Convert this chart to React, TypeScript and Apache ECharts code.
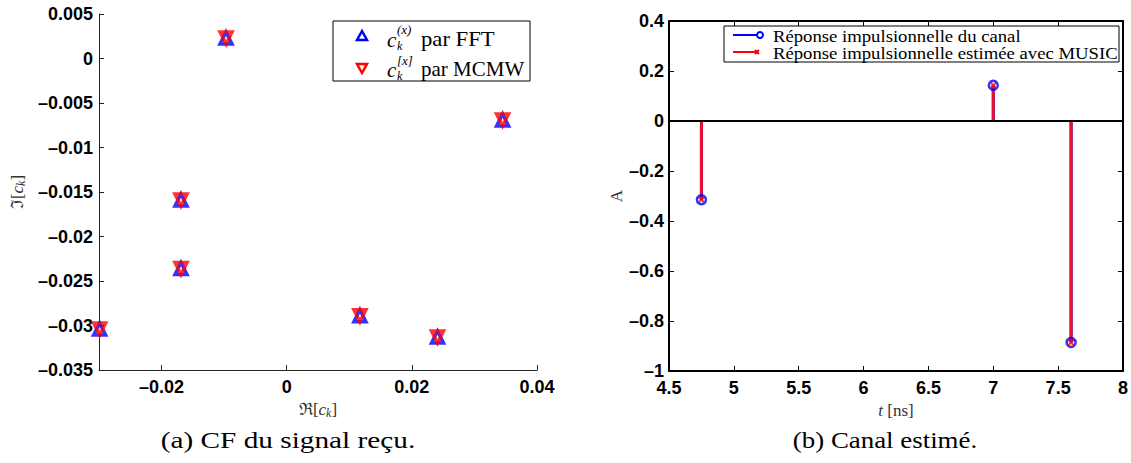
import React, { useEffect, useRef } from "react";
import * as echarts from "echarts";

// Left chart: Fourier coefficients (complex plane)
const fftRe = [-0.0299, -0.0169, -0.0169, -0.0097, 0.0345, 0.0117, 0.0241];
const fftIm = [-0.0304, -0.0236, -0.0159, 0.0023, -0.0069, -0.0289, -0.0313];
const mcmwRe = [-0.0299, -0.0169, -0.0169, -0.0097, 0.0345, 0.0117, 0.0241];
const mcmwIm = [-0.0304, -0.0236, -0.0159, 0.0023, -0.0069, -0.0289, -0.0313];
const leftXTicks = [-0.02, 0, 0.02, 0.04];

// Right chart: channel impulse response
const tCanal = [4.75, 7.0, 7.6];
const aCanal = [-0.315, 0.143, -0.886];
const tMusic = [4.75, 7.0, 7.6];
const aMusic = [-0.315, 0.143, -0.886];

const SERIF = "Liberation Serif";
const SANS = "Liberation Sans";

const fmt = (v: number) => {
  const n = parseFloat(v.toFixed(4));
  if (n === 0) return "0";
  const s = String(Math.abs(n));
  return n < 0 ? "\u2013" + s : s;
};

const tickLabel = { color: "#000", fontFamily: SANS, fontWeight: "bold" as const, fontSize: 18 };

export default function App() {
  const ref = useRef<HTMLDivElement>(null);
  useEffect(() => {
    if (!ref.current) return;
    const chart = echarts.init(ref.current, undefined, { renderer: "svg" });
    const xMarker = "path://M0,0L10,10M10,0L0,10";
    const txt = (
      x: number,
      y: number,
      text: string,
      size: number,
      italic = false,
      align = "left",
      sx = 1,
      valign = "middle",
      color = "#000"
    ) => ({
      type: "text",
      x,
      y,
      scaleX: sx,
      z: 11,
      style: {
        text,
        fontFamily: SERIF,
        fontSize: size,
        fontStyle: italic ? "italic" : "normal",
        fill: color,
        textAlign: align,
        textVerticalAlign: valign,
        align,
        verticalAlign: valign,
      },
    });
    const nameRich = {
      i: { fontFamily: SERIF, fontStyle: "italic", fontSize: 17, color: "#333" },
      s: { fontFamily: SERIF, fontStyle: "italic", fontSize: 12, color: "#333", padding: [8, 0, 0, 0] },
    };
    const option: any = {
      animation: false,
      backgroundColor: "#fff",
      grid: [
        { left: 99, top: 14, width: 438, height: 356 },
        { left: 669, top: 21, width: 454, height: 350 },
      ],
      xAxis: [
        {
          type: "value",
          gridIndex: 0,
          min: -0.03,
          max: 0.04,
          splitLine: { show: false },
          axisLine: { onZero: false, lineStyle: { color: "#222", width: 1 } },
          axisTick: { inside: true, length: 5, customValues: leftXTicks, lineStyle: { color: "#222" } },
          axisLabel: { ...tickLabel, margin: 8, customValues: leftXTicks, formatter: fmt },
          name: "\u211C[{i|c}{s|k}]",
          nameLocation: "middle",
          nameGap: 28,
          nameTextStyle: { fontFamily: SERIF, fontSize: 17, color: "#333", rich: nameRich },
        },
        {
          type: "value",
          gridIndex: 1,
          min: 4.5,
          max: 8,
          interval: 0.5,
          splitLine: { show: false },
          axisLine: { onZero: false, lineStyle: { color: "#000", width: 2 } },
          axisTick: { inside: true, length: 5, lineStyle: { color: "#000" } },
          axisLabel: { ...tickLabel, margin: 8, formatter: fmt },
          name: "{i|t} [ns]",
          nameLocation: "middle",
          nameGap: 27,
          nameTextStyle: { fontFamily: SERIF, fontSize: 17, color: "#333", rich: { i: { fontFamily: SERIF, fontStyle: "italic", fontSize: 17, color: "#333" } } },
        },
        {
          type: "value",
          gridIndex: 1,
          position: "top",
          min: 4.5,
          max: 8,
          interval: 0.5,
          splitLine: { show: false },
          axisLine: { onZero: false, lineStyle: { color: "#000", width: 2 } },
          axisTick: { inside: true, length: 5, lineStyle: { color: "#000" } },
          axisLabel: { show: false },
        },
      ],
      yAxis: [
        {
          type: "value",
          gridIndex: 0,
          min: -0.035,
          max: 0.005,
          interval: 0.005,
          splitLine: { show: false },
          axisLine: { onZero: false, lineStyle: { color: "#222", width: 1 } },
          axisTick: { inside: true, length: 5, lineStyle: { color: "#222" } },
          axisLabel: { ...tickLabel, margin: 6, formatter: fmt },
          name: "\u2111[{i|c}{s|k}]",
          nameLocation: "middle",
          nameGap: 72,
          nameTextStyle: { fontFamily: SERIF, fontSize: 17, color: "#333", rich: nameRich },
        },
        {
          type: "value",
          gridIndex: 1,
          min: -1,
          max: 0.4,
          interval: 0.2,
          splitLine: { show: false },
          axisLine: { onZero: false, lineStyle: { color: "#000", width: 2 } },
          axisTick: { inside: true, length: 5, lineStyle: { color: "#000" } },
          axisLabel: { ...tickLabel, margin: 5, formatter: fmt },
          name: "A",
          nameLocation: "middle",
          nameGap: 41,
          nameTextStyle: { fontFamily: SERIF, fontSize: 17, color: "#333" },
        },
        {
          type: "value",
          gridIndex: 1,
          position: "right",
          min: -1,
          max: 0.4,
          interval: 0.2,
          splitLine: { show: false },
          axisLine: { onZero: false, lineStyle: { color: "#000", width: 2 } },
          axisTick: { inside: true, length: 5, lineStyle: { color: "#000" } },
          axisLabel: { show: false },
        },
      ],
      series: [
        {
          name: "FFT",
          type: "scatter",
          xAxisIndex: 0,
          yAxisIndex: 0,
          symbol: "triangle",
          symbolSize: 12,
          itemStyle: { color: "#fff", borderColor: "#0000ff", borderWidth: 3.5 },
          data: fftRe.map((x, i) => [x, fftIm[i]]),
          z: 3,
        },
        {
          name: "MCMW",
          type: "scatter",
          xAxisIndex: 0,
          yAxisIndex: 0,
          symbol: "triangle",
          symbolRotate: 180,
          symbolSize: 12,
          itemStyle: { color: "rgba(255,255,255,0)", borderColor: "#ff0000", borderWidth: 3.5 },
          data: mcmwRe.map((x, i) => [x, mcmwIm[i]]),
          z: 4,
        },
        {
          name: "canal",
          type: "bar",
          xAxisIndex: 1,
          yAxisIndex: 1,
          barWidth: 3,
          barGap: "-100%",
          itemStyle: { color: "#0000ff" },
          data: tCanal.map((t, i) => [t, aCanal[i]]),
          z: 2,
        },
        {
          name: "MUSIC",
          type: "bar",
          xAxisIndex: 1,
          yAxisIndex: 1,
          barWidth: 3,
          barGap: "-100%",
          itemStyle: { color: "#e8102e" },
          data: tMusic.map((t, i) => [t, aMusic[i]]),
          z: 3,
          markLine: {
            silent: true,
            symbol: "none",
            label: { show: false },
            lineStyle: { color: "#000", width: 2, type: "solid" },
            data: [{ yAxis: 0 }],
          },
        },
        {
          name: "canal-marker",
          type: "scatter",
          xAxisIndex: 1,
          yAxisIndex: 1,
          symbol: "circle",
          symbolSize: 9,
          itemStyle: { color: "rgba(255,255,255,0)", borderColor: "#0000ff", borderWidth: 2.5 },
          data: tCanal.map((t, i) => [t, aCanal[i]]),
          z: 5,
        },
        {
          name: "MUSIC-marker",
          type: "scatter",
          xAxisIndex: 1,
          yAxisIndex: 1,
          symbol: xMarker,
          symbolSize: 5,
          itemStyle: { color: "#ff0000", borderColor: "#ff0000", borderWidth: 2 },
          data: tMusic.map((t, i) => [t, aMusic[i]]),
          z: 6,
        },
      ],
      graphic: [
        // left legend
        {
          type: "rect",
          shape: { x: 333, y: 21, width: 197, height: 60 },
          style: { fill: "#fff", stroke: "#000", lineWidth: 1 },
          z: 10,
        },
        {
          type: "polygon",
          shape: { points: [[362, 31], [357, 40], [367, 40]] },
          style: { fill: "#fff", stroke: "#0000ff", lineWidth: 2.5 },
          z: 11,
        },
        {
          type: "polygon",
          shape: { points: [[362, 73], [357, 64], [367, 64]] },
          style: { fill: "#fff", stroke: "#ff0000", lineWidth: 2.5 },
          z: 11,
        },
        txt(387, 40, "c", 21, true),
        txt(397, 46, "k", 12, true),
        txt(397, 29, "(x)", 13, true),
        txt(421, 39, "par FFT", 21, false, "left", 1.08),
        txt(387, 70, "c", 21, true),
        txt(397, 76, "k", 12, true),
        txt(397, 60, "[x]", 13, true),
        txt(421, 69, "par MCMW", 21, false, "left", 1.0),
        // right legend
        {
          type: "rect",
          shape: { x: 724, y: 26, width: 395, height: 36 },
          style: { fill: "#fff", stroke: "#000", lineWidth: 1 },
          z: 10,
        },
        { type: "line", shape: { x1: 733, y1: 35, x2: 760, y2: 35 }, style: { stroke: "#0000ff", lineWidth: 2 }, z: 11 },
        { type: "circle", shape: { cx: 760, cy: 35, r: 3 }, style: { fill: "#fff", stroke: "#0000ff", lineWidth: 2 }, z: 12 },
        { type: "line", shape: { x1: 733, y1: 52, x2: 757, y2: 52 }, style: { stroke: "#ff0000", lineWidth: 2 }, z: 11 },
        { type: "line", shape: { x1: 755, y1: 50, x2: 759, y2: 54 }, style: { stroke: "#ff0000", lineWidth: 2 }, z: 12 },
        { type: "line", shape: { x1: 759, y1: 50, x2: 755, y2: 54 }, style: { stroke: "#ff0000", lineWidth: 2 }, z: 12 },
        txt(773, 36, "Réponse impulsionnelle du canal", 17, false, "left", 1.1),
        txt(773, 53, "Réponse impulsionnelle estimée avec MUSIC", 17, false, "left", 1.1),
        // captions
        txt(288, 440, "(a) CF du signal reçu.", 24, false, "center", 1.22),
        txt(885, 440, "(b) Canal estimé.", 24, false, "center", 1.12),
      ],
    };
    chart.setOption(option);
    return () => chart.dispose();
  }, []);
  return <div ref={ref} style={{ position: "fixed", left: 0, top: 0, width: 1131, height: 463, background: "#fff" }} />;
}
